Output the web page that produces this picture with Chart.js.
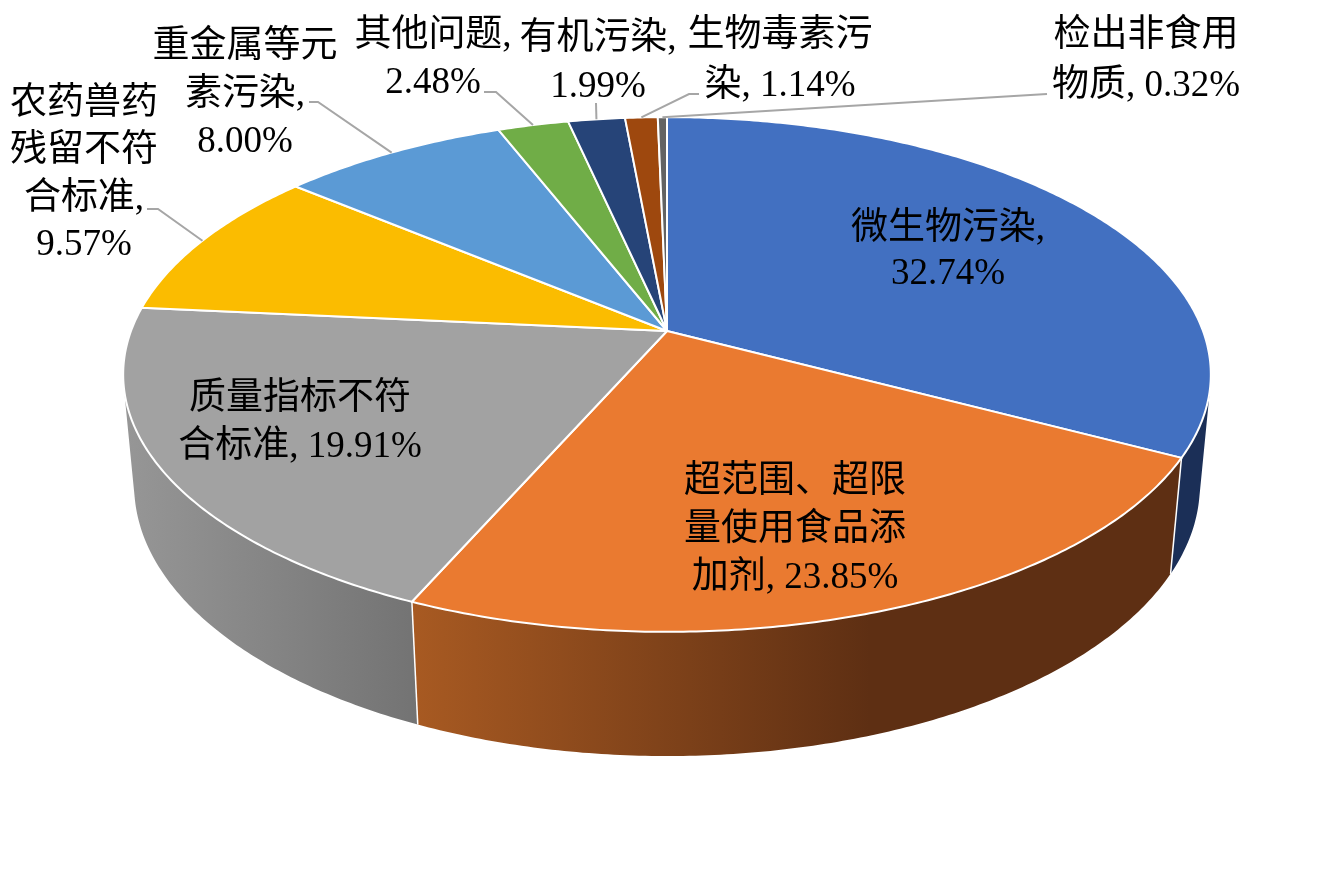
<!DOCTYPE html>
<html lang="zh-CN">
<head>
<meta charset="utf-8">
<title>食品抽检不合格原因占比</title>
<script src="https://cdn.jsdelivr.net/npm/chart.js@4/dist/chart.umd.js"></script>
<style>
  html, body { margin: 0; padding: 0; background: #fff; }
  canvas { display: block; }
</style>
</head>
<body>
<canvas id="pie" width="1334" height="889"></canvas>
<script>
// データ
const categories = ['微生物污染', '超范围、超限量使用食品添加剂', '质量指标不符合标准', '农药兽药残留不符合标准',
  '重金属等元素污染', '其他问题', '有机污染', '生物毒素污染', '检出非食用物质'];
const shares = [32.74, 23.85, 19.91, 9.57, 8.00, 2.48, 1.99, 1.14, 0.32];
const sliceColors = ['#4270C1', '#EA7A30', '#A2A2A2', '#FBBC00', '#5B9AD5', '#70AD47', '#264478', '#9E480E', '#636363'];
const labelLines = [
  ['微生物污染,', '32.74%'],
  ['超范围、超限', '量使用食品添', '加剂, 23.85%'],
  ['质量指标不符', '合标准, 19.91%'],
  ['农药兽药', '残留不符', '合标准,', '9.57%'],
  ['重金属等元', '素污染,', '8.00%'],
  ['其他问题,', '2.48%'],
  ['有机污染,', '1.99%'],
  ['生物毒素污', '染, 1.14%'],
  ['检出非食用', '物质, 0.32%']
];

// 透視投影のパラメータ
const view = { cx: 667, cy: 331, rx: 536, ry: 250, tilt: 0.169, depthY: 111.7, depthW: 0.02 };

function project(angle, depth) {
  const u = Math.cos(angle), v = Math.sin(angle);
  const w = 1 - view.tilt * v + view.depthW * depth;
  return {
    x: view.cx + view.rx * u / w,
    y: view.cy + (view.ry * v + view.depthY * depth) / w
  };
}

function traceRim(ctx, start, end, depth, first) {
  const steps = Math.max(2, Math.ceil(Math.abs(end - start) / 0.01));
  for (let i = 0; i <= steps; i++) {
    const p = project(start + (end - start) * i / steps, depth);
    if (i === 0 && first) ctx.moveTo(p.x, p.y);
    else ctx.lineTo(p.x, p.y);
  }
}

// 側面は小さな四角形の集まりとして1つのパスにする (向きを揃えないと折り返し部分が抜ける)
function traceWall(ctx, start, end) {
  const steps = Math.max(2, Math.ceil((end - start) / 0.01));
  for (let i = 0; i < steps; i++) {
    const a0 = start + (end - start) * i / steps;
    const a1 = start + (end - start) * (i + 1) / steps;
    const quad = [project(a0, 0), project(a1, 0), project(a1, 1), project(a0, 1)];
    let area = 0;
    quad.forEach((p, j) => {
      const q = quad[(j + 1) % 4];
      area += p.x * q.y - q.x * p.y;
    });
    if (area < 0) quad.reverse();
    ctx.moveTo(quad[0].x, quad[0].y);
    ctx.lineTo(quad[1].x, quad[1].y);
    ctx.lineTo(quad[2].x, quad[2].y);
    ctx.lineTo(quad[3].x, quad[3].y);
    ctx.closePath();
  }
}

// 側面の色
function wallFill(ctx, index) {
  if (index === 1) {
    const g = ctx.createLinearGradient(412, 0, 870, 0);
    g.addColorStop(0, '#A85A22');
    g.addColorStop(1, '#5E2F13');
    return g;
  }
  if (index === 2) {
    const g = ctx.createLinearGradient(127, 0, 418, 0);
    g.addColorStop(0, '#969696');
    g.addColorStop(1, '#737373');
    return g;
  }
  return index === 0 ? '#1B2F57' : '#555555';
}

class TiltArc extends Chart.ArcElement {
  static id = 'tiltArc';
  static defaults = { ...Chart.ArcElement.defaults };

  draw(ctx) {
    const { startAngle, endAngle, options } = this;
    ctx.save();
    ctx.beginPath();
    ctx.moveTo(view.cx, view.cy);
    traceRim(ctx, startAngle, endAngle, 0, false);
    ctx.closePath();
    ctx.fillStyle = options.backgroundColor;
    ctx.fill();
    ctx.strokeStyle = options.borderColor;
    ctx.lineWidth = options.borderWidth;
    ctx.lineJoin = 'round';
    ctx.stroke();
    ctx.restore();
  }
}

class TiltPieController extends Chart.PieController {
  static id = 'tiltPie';
  static defaults = { dataElementType: 'tiltArc' };

  draw() {
    const ctx = this.chart.ctx;
    const arcs = this.getMeta().data;
    // 先に側面を描く
    arcs.forEach((arc, i) => {
      ctx.save();
      ctx.beginPath();
      traceWall(ctx, arc.startAngle, arc.endAngle);
      ctx.fillStyle = wallFill(ctx, i);
      ctx.fill();
      ctx.restore();
    });
    arcs.forEach(arc => {
      const a = project(arc.endAngle, 0), b = project(arc.endAngle, 1);
      ctx.save();
      ctx.beginPath();
      ctx.moveTo(a.x, a.y);
      ctx.lineTo(b.x, b.y);
      ctx.strokeStyle = '#fff';
      ctx.lineWidth = 1.5;
      ctx.stroke();
      ctx.restore();
    });
    super.draw();
  }
}

Chart.register(TiltArc, TiltPieController);

// ラベルの配置
const labelSpots = [
  { x: 948, ys: [229, 274] },
  { x: 795, ys: [482, 530, 578] },
  { x: 300, ys: [399, 447] },
  { x: 84, ys: [104, 151, 199, 245] },
  { x: 245, ys: [47, 95, 142] },
  { x: 433, ys: [36, 83] },
  { x: 598, ys: [39, 87] },
  { x: 780, ys: [36, 86] },
  { x: 1146, ys: [36, 86] }
];
// 引き出し線: ラベル側の点 (残りはスライスの外周から求める)
const leaderElbows = {
  3: [[147, 209], [158, 209]],
  4: [[309, 102], [318, 102]],
  5: [[484, 92], [496, 92]],
  6: [[596, 103]],
  7: [[699, 94], [689, 94]],
  8: [[1047, 94]]
};

const labelPlugin = {
  id: 'sliceLabels',
  afterDatasetsDraw(chart) {
    const ctx = chart.ctx;
    const arcs = chart.getDatasetMeta(0).data;
    ctx.save();
    ctx.strokeStyle = '#A6A6A6';
    ctx.lineWidth = 2;
    Object.keys(leaderElbows).forEach(k => {
      const arc = arcs[k];
      const end = project((arc.startAngle + arc.endAngle) / 2, 0);
      ctx.beginPath();
      leaderElbows[k].forEach((p, i) => {
        if (i === 0) ctx.moveTo(p[0], p[1]);
        else ctx.lineTo(p[0], p[1]);
      });
      ctx.lineTo(end.x, end.y);
      ctx.stroke();
    });
    ctx.fillStyle = '#000';
    ctx.font = '37px "Liberation Serif", "Noto Sans CJK SC", serif';
    ctx.textAlign = 'center';
    ctx.textBaseline = 'middle';
    labelLines.forEach((lines, i) => {
      lines.forEach((line, j) => {
        ctx.fillText(line, labelSpots[i].x, labelSpots[i].ys[j]);
      });
    });
    ctx.restore();
  }
};

new Chart(document.getElementById('pie').getContext('2d'), {
  type: 'tiltPie',
  data: {
    labels: categories,
    datasets: [{
      data: shares,
      backgroundColor: sliceColors,
      borderColor: '#fff',
      borderWidth: 2
    }]
  },
  options: {
    responsive: false,
    animation: false,
    events: [],
    plugins: { legend: { display: false }, tooltip: { enabled: false } }
  },
  plugins: [labelPlugin]
});
</script>
</body>
</html>
